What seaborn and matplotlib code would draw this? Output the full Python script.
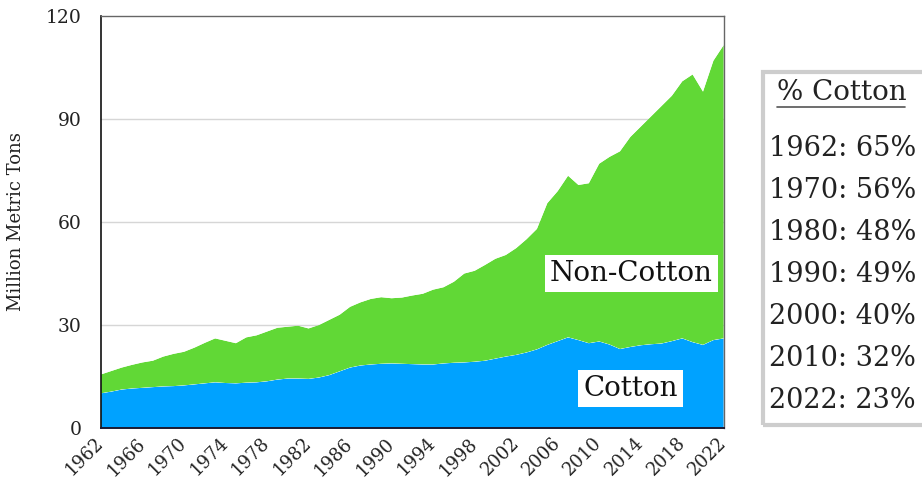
import numpy as np
import pandas as pd
import matplotlib
matplotlib.use("Agg")
import matplotlib.pyplot as plt
from matplotlib.patches import Rectangle
from matplotlib.lines import Line2D
import seaborn as sns
import seaborn.objects as so

# ---------------- data ----------------
years = list(range(1962, 2023))
total_fiber = [
    15.6, 16.6, 17.6, 18.4, 19.1, 19.6, 20.8, 21.6, 22.2, 23.4,
    24.8, 26.1, 25.4, 24.7, 26.4, 27.0, 28.1, 29.2, 29.5, 29.8,
    29.0, 30.0, 31.5, 33.0, 35.3, 36.6, 37.6, 38.1, 37.8, 38.0,
    38.6, 39.1, 40.3, 41.0, 42.6, 45.0, 45.8, 47.5, 49.3, 50.4,
    52.4, 55.0, 58.0, 65.5, 69.0, 73.5, 70.8, 71.3, 77.0, 79.0,
    80.6, 84.8, 87.8, 90.8, 93.8, 96.8, 101.0, 103.0, 98.0, 107.0,
    111.6,
]
cotton = [
    10.1, 10.6, 11.2, 11.5, 11.7, 11.9, 12.1, 12.2, 12.4, 12.7,
    13.0, 13.3, 13.1, 13.0, 13.2, 13.3, 13.6, 14.1, 14.4, 14.4,
    14.3, 14.7, 15.4, 16.5, 17.6, 18.2, 18.5, 18.7, 18.8, 18.7,
    18.6, 18.5, 18.5, 18.8, 19.0, 19.1, 19.3, 19.6, 20.2, 20.8,
    21.3, 22.0, 22.9, 24.2, 25.3, 26.4, 25.6, 24.7, 25.2, 24.3,
    23.0, 23.6, 24.1, 24.4, 24.6, 25.3, 26.1, 25.0, 24.2, 25.6,
    26.1,
]
non_cotton = [round(t - c, 2) for t, c in zip(total_fiber, cotton)]

series_names = ["Cotton", "Non-Cotton"]
series_colors = {"Cotton": "#00A2FF", "Non-Cotton": "#61D836"}

y_ticks = [0, 30, 60, 90, 120]
x_ticks = list(range(1962, 2023, 4))
y_label = "Million Metric Tons"

share_title = "% Cotton"
share_years = [1962, 1970, 1980, 1990, 2000, 2010, 2022]
share_pct = [65, 56, 48, 49, 40, 32, 23]

# ---------------- style ----------------
sns.set_theme(style="white")
plt.rcParams["font.family"] = ["DejaVu Serif", "DejaVu Sans"]
serif = ["DejaVu Serif", "DejaVu Sans"]

df = pd.DataFrame({
    "Year": years * 2,
    "Mt": cotton + non_cotton,
    "Type": ["Cotton"] * len(years) + ["Non-Cotton"] * len(years),
})

fig = plt.figure(figsize=(9.22, 4.88), dpi=100)
ax = fig.add_axes([0.1095, 0.123, 0.6755, 0.844])

(
    so.Plot(df, x="Year", y="Mt", color="Type")
    .add(so.Area(alpha=1, edgewidth=0), so.Stack(), legend=False)
    .scale(color=series_colors)
    .theme({**sns.axes_style("white"), "font.family": serif})
    .on(ax)
    .plot()
)

ax.set_facecolor("white")
ax.set_xlim(1962, 2022)
ax.set_ylim(0, 120)
ax.set_yticks(y_ticks)
ax.set_yticklabels([str(v) for v in y_ticks], fontsize=13.5, family=serif,
                   color="#222222")
ax.set_xticks(x_ticks)
ax.set_xticklabels([str(v) for v in x_ticks], fontsize=13, family=serif,
                   color="#222222", rotation=45, ha="right", va="center",
                   rotation_mode="anchor")
ax.tick_params(axis="y", length=0, pad=14)
ax.tick_params(axis="x", length=0, pad=9)
ax.set_xlabel("")
ax.set_ylabel(y_label, fontsize=13, family=serif, color="#222222")
ax.yaxis.set_label_coords(-0.122, 0.5)

ax.grid(False)
for v in y_ticks[1:-1]:
    ax.axhline(v, color="#d6d6d6", lw=1.0, zorder=0.5)
ax.set_axisbelow(True)

ax.spines["left"].set_color("#111111")
ax.spines["left"].set_linewidth(1.2)
ax.spines["bottom"].set_color("#1a1a33")
ax.spines["bottom"].set_linewidth(1.4)
for s in ("top", "right"):
    ax.spines[s].set_visible(True)
    ax.spines[s].set_color("#666666")
    ax.spines[s].set_linewidth(1.0)

# series labels inside the chart
ax.text(2013.1, 45.1, "Non-Cotton", fontsize=20, family=serif, color="#111111",
        ha="center", va="center", zorder=5,
        bbox=dict(boxstyle="square,pad=0.18", fc="white", ec="none"))
ax.text(2013.0, 11.4, "Cotton", fontsize=20, family=serif, color="#111111",
        ha="center", va="center", zorder=5,
        bbox=dict(boxstyle="square,pad=0.18", fc="white", ec="none"))

# side panel with % cotton
W, H = 922.0, 488.0
fig.patches.append(Rectangle((763 / W, 1 - 425 / H), 0.3, (425 - 72) / H,
                             transform=fig.transFigure, fill=False,
                             ec="#cdcdcd", lw=3, zorder=1))
fig.text(777 / W, 1 - 93 / H, share_title, fontsize=20, family=serif,
         color="#222222", ha="left", va="center")
fig.lines.append(Line2D([777 / W, 905 / W], [1 - 107 / H, 1 - 107 / H],
                        transform=fig.transFigure, color="#555555", lw=1.2))
row_y = [148, 190, 232, 274, 316, 358, 401]
for yr, pct, yy in zip(share_years, share_pct, row_y):
    fig.text(769 / W, 1 - yy / H, f"{yr}: {pct}%", fontsize=19.5, family=serif,
             color="#222222", ha="left", va="center")

fig.savefig("out.png", dpi=100, facecolor="white")
